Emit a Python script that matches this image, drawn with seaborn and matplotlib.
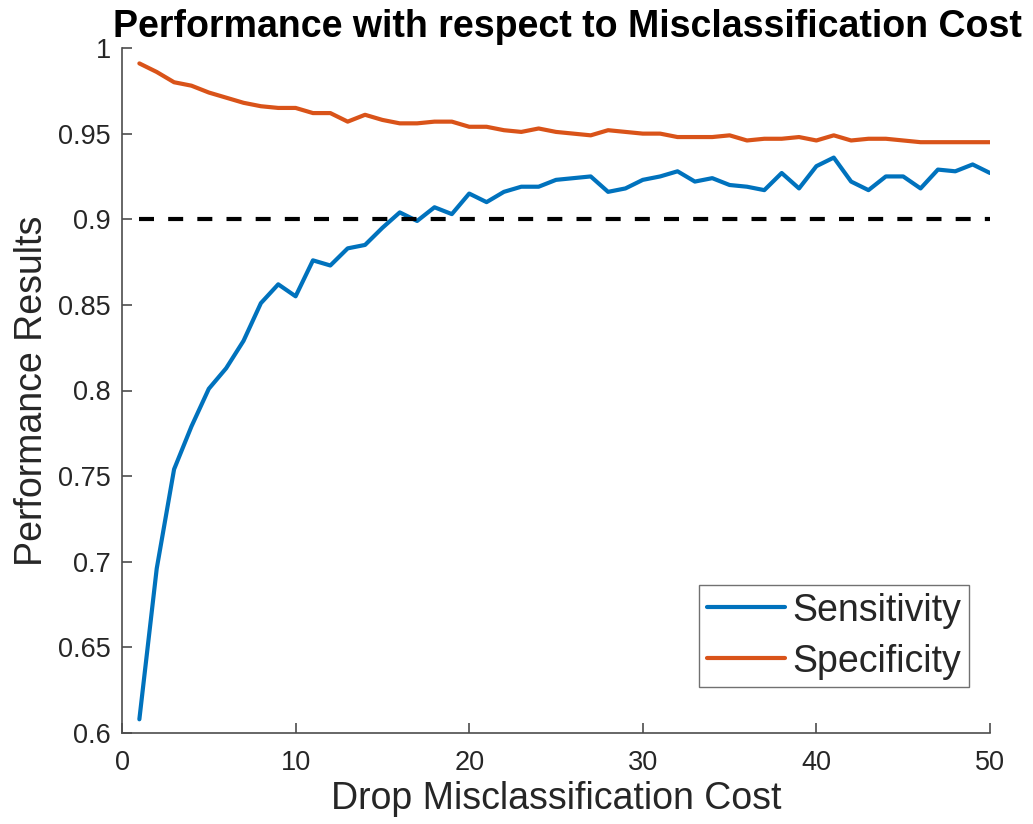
import numpy as np
import pandas as pd
import matplotlib
matplotlib.use("Agg")
import matplotlib.pyplot as plt
import seaborn as sns

cost = list(range(1, 51))
sensitivity = [0.608, 0.696, 0.754, 0.779, 0.801, 0.813, 0.829, 0.851, 0.862, 0.855,
               0.876, 0.873, 0.883, 0.885, 0.895, 0.904, 0.899, 0.907, 0.903, 0.915,
               0.910, 0.916, 0.919, 0.919, 0.923, 0.924, 0.925, 0.916, 0.918, 0.923,
               0.925, 0.928, 0.922, 0.924, 0.920, 0.919, 0.917, 0.927, 0.918, 0.931,
               0.936, 0.922, 0.917, 0.925, 0.925, 0.918, 0.929, 0.928, 0.932, 0.927]
specificity = [0.991, 0.986, 0.980, 0.978, 0.974, 0.971, 0.968, 0.966, 0.965, 0.965,
               0.962, 0.962, 0.957, 0.961, 0.958, 0.956, 0.956, 0.957, 0.957, 0.954,
               0.954, 0.952, 0.951, 0.953, 0.951, 0.950, 0.949, 0.952, 0.951, 0.950,
               0.950, 0.948, 0.948, 0.948, 0.949, 0.946, 0.947, 0.947, 0.948, 0.946,
               0.949, 0.946, 0.947, 0.947, 0.946, 0.945, 0.945, 0.945, 0.945, 0.945]
threshold = 0.9
series_names = ["Sensitivity", "Specificity"]
colors = ["#0072BD", "#D95319"]
xticks = [0, 10, 20, 30, 40, 50]
yticks = [0.6, 0.65, 0.7, 0.75, 0.8, 0.85, 0.9, 0.95, 1.0]
ytick_labels = ["0.6", "0.65", "0.7", "0.75", "0.8", "0.85", "0.9", "0.95", "1"]

df = pd.DataFrame({
    "cost": cost * 2,
    "value": sensitivity + specificity,
    "series": [series_names[0]] * len(cost) + [series_names[1]] * len(cost),
})

sns.set_style("ticks")
plt.rcParams["font.family"] = ["Liberation Sans", "DejaVu Sans"]

fig = plt.figure(figsize=(10.33, 8.24), dpi=100)
ax = fig.add_axes([122/1033, 1 - 733/824, (990 - 122)/1033, (733 - 48)/824])

sns.lineplot(data=df, x="cost", y="value", hue="series", hue_order=series_names,
             palette=colors, linewidth=3.0, ax=ax, legend=True)
ax.plot([cost[0], cost[-1]], [threshold, threshold], color="black", linewidth=3.0,
        linestyle=(0, (3.6, 3.4)))

ax.set_xlim(0, 50)
ax.set_ylim(0.6, 1.0)
ax.set_xticks(xticks)
ax.set_yticks(yticks)
ax.set_yticklabels(ytick_labels)
ax.tick_params(direction="in", length=7, width=1.2, colors="#4d4d4d",
               labelcolor="#262626", labelsize=19.5)
ax.tick_params(axis="x", pad=12)
ax.tick_params(axis="y", pad=8)
for s in ["top", "right"]:
    ax.spines[s].set_visible(False)
for s in ["left", "bottom"]:
    ax.spines[s].set_color("#4d4d4d")
    ax.spines[s].set_linewidth(1.2)

ax.set_xlabel("Drop Misclassification Cost", fontsize=27, color="#262626", labelpad=4)
ax.set_ylabel("Performance Results", fontsize=27, color="#262626", labelpad=6)
ax.set_title("Performance with respect to Misclassification Cost", fontsize=27,
             fontweight="bold", color="black", pad=8, x=0.513)

leg = ax.legend(loc="lower right", bbox_to_anchor=(0.976, 0.067), fontsize=27,
                frameon=True, fancybox=False, handlelength=2.1, handletextpad=0.2,
                borderpad=0.2, labelspacing=0.4, borderaxespad=0)
leg.get_frame().set_edgecolor("#4d4d4d")
leg.get_frame().set_linewidth(1.0)
for line in leg.get_lines():
    line.set_linewidth(3.0)

fig.savefig("out.png", dpi=100)
